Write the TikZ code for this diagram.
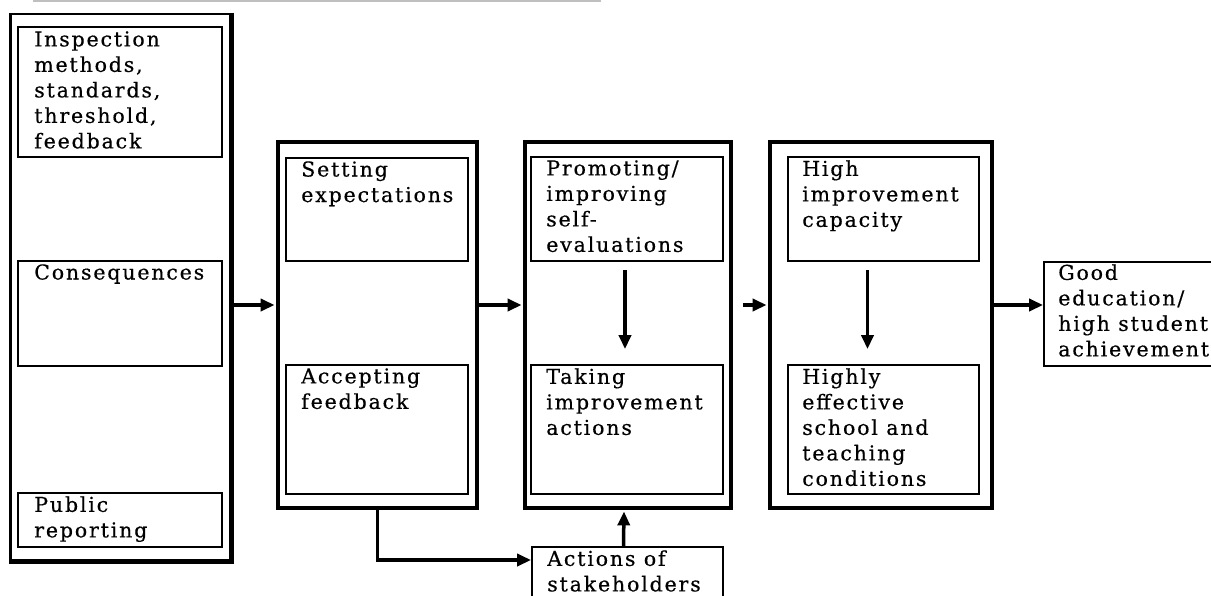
\documentclass[tikz,border=0pt]{standalone}
\usepackage{fontspec}
\setmainfont[LetterSpace=9,FakeBold=0.5]{DejaVu Serif}
\usetikzlibrary{arrows.meta,fit}
\begin{document}
\begin{tikzpicture}[x=1pt,y=-1pt,
  outer/.style={draw, line width=3.8pt, inner sep=0pt},
  inbox/.style={draw, line width=1.8pt, inner sep=0pt},
  lbl/.style={anchor=north west, inner sep=0pt, align=left,
    font=\fontsize{20.5}{25.5}\selectfont},
  arr/.style={line width=3.5pt, -{Triangle[length=14pt,width=12pt]}}]
\useasboundingbox (0,0) rectangle (1211,595);

% rule above the figure
\draw[black!25, line width=1.8pt] (33,1) -- (601,1);

% stage frames
\node[draw, line width=2.6pt, inner sep=0pt, fit={(10.5,14) (230,560)}] (b1) {};
\draw[line width=4.5pt] (b1.north east) -- (b1.south east) -- (b1.south west);
\node[outer, fit={(278,142) (477,508)}] (b2) {};
\node[outer, fit={(525,142) (731,508)}] (b3) {};
\node[outer, fit={(770,142) (992,508)}] (b4) {};

% inner boxes
\node[inbox, fit={(18,27) (222,157)}] (p1a) {};
\node[inbox, fit={(18,261) (222,366)}] (p1b) {};
\node[inbox, fit={(18,493) (222,547)}] (p1c) {};
\node[inbox, fit={(286,158) (468,261)}] (p2a) {};
\node[inbox, fit={(286,365) (468,494)}] (p2b) {};
\node[inbox, fit={(531,157) (723,261)}] (p3a) {};
\node[inbox, fit={(531,365) (723,494)}] (p3b) {};
\node[inbox, fit={(788,157) (979,261)}] (p4a) {};
\node[inbox, fit={(788,365) (979,494)}] (p4b) {};
\node[inbox, fit={(1044,262) (1232,366)}] (good) {};
\node[inbox, fit={(532,547) (723,614)}] (act) {};

% box texts
\node[lbl] (t1a) at ([shift={(17pt,-5pt)}]p1a.north west) {Inspection\\methods,\\standards,\\threshold,\\feedback};
\node[lbl] (t1b) at ([shift={(17pt,-4pt)}]p1b.north west) {Consequences};
\node[lbl] (t1c) at ([shift={(17pt,-4pt)}]p1c.north west) {Public\\reporting};
\node[lbl] (t2a) at ([shift={(16pt,-4pt)}]p2a.north west) {Setting\\expectations};
\node[lbl] (t2b) at ([shift={(16pt,-4pt)}]p2b.north west) {Accepting\\feedback};
\node[lbl] (t3a) at ([shift={(16pt,-4pt)}]p3a.north west) {Promoting/\\improving\\self-\\evaluations};
\node[lbl] (t3b) at ([shift={(16pt,-4pt)}]p3b.north west) {Taking\\improvement\\actions};
\node[lbl] (t4a) at ([shift={(15pt,-4pt)}]p4a.north west) {High\\improvement\\capacity};
\node[lbl] (t4b) at ([shift={(15pt,-4pt)}]p4b.north west) {Highly\\effective\\school and\\teaching\\conditions};
\node[lbl] (tgood) at ([shift={(15pt,-3pt)}]good.north west) {Good\\education/\\high student\\achievement};
\node[lbl] (tact) at ([shift={(16pt,-4pt)}]act.north west) {Actions of\\stakeholders};

% connectors
\coordinate (lane) at (0,305);
\coordinate (feed) at (0,560);
\coordinate (s4) at (743,305);
\draw[arr, shorten >=1.5pt] (b1.east |- lane) -- (b2.west |- lane);
\draw[arr, shorten >=1.5pt] (b2.east |- lane) -- (b3.west |- lane);
\draw[arr, shorten >=1.5pt] (s4) -- (b4.west |- lane);
\draw[arr] (b4.east |- lane) -- (good.west |- lane);
\draw[arr] ([shift={(-2pt,-8pt)}]p3a.south) -- ([shift={(-2pt,15pt)}]p3b.north);
\draw[arr] ([shift={(-16pt,-8pt)}]p4a.south) -- ([shift={(-16pt,15pt)}]p4b.north);
\draw[arr] (b2.south) |- (act.west |- feed);
\draw[arr, shorten >=1.5pt] ([xshift=-4pt]act.north) -- ([xshift=-4pt]b3.south);
\end{tikzpicture}
\end{document}
